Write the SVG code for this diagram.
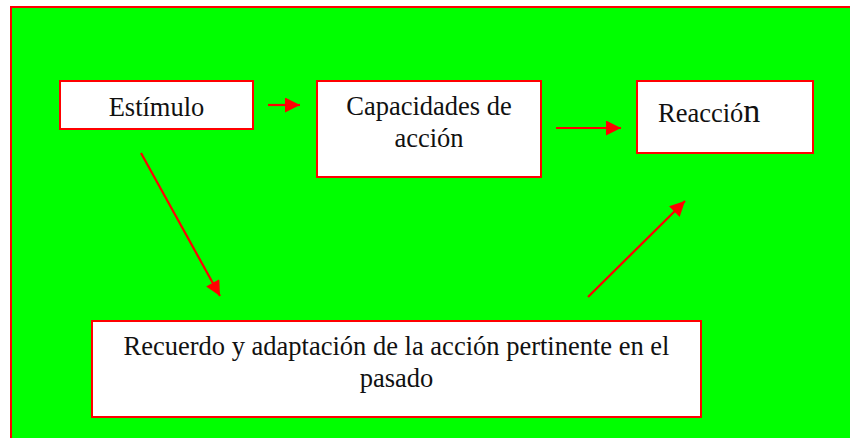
<svg xmlns="http://www.w3.org/2000/svg" width="850" height="438" viewBox="0 0 850 438">
  <defs>
    <style>
      .box { fill: #ffffff; stroke: #ff0000; stroke-width: 2; }
      .lbl { font-family: "Liberation Serif", "Times New Roman", serif; font-size: 26.5px; fill: #111111; }
      .conn { stroke: #ff0000; stroke-width: 2.2; fill: none; }
    </style>
    <marker id="arrow" viewBox="0 0 10 10" refX="10" refY="5" markerUnits="userSpaceOnUse" markerWidth="16" markerHeight="15" orient="auto">
      <path d="M0,0 L10,5 L0,10 Z" fill="#ff0000"/>
    </marker>
  </defs>
  <rect x="0" y="0" width="850" height="438" fill="#ffffff"/>
  <rect x="11" y="7" width="845" height="440" fill="#00ff00" stroke="#ff0000" stroke-width="2"/>

  <g id="estimulo">
    <rect class="box" x="60" y="81" width="193" height="48"/>
    <text class="lbl" x="156.5" y="116" text-anchor="middle">Estímulo</text>
  </g>
  <g id="capacidades">
    <rect class="box" x="317" y="81" width="224" height="96"/>
    <text class="lbl" x="429" y="115" text-anchor="middle">Capacidades de</text>
    <text class="lbl" x="429" y="147" text-anchor="middle">acción</text>
  </g>
  <g id="reaccion">
    <rect class="box" x="637" y="81" width="176" height="72"/>
    <text class="lbl" x="658" y="122">Reacció<tspan font-size="34">n</tspan></text>
  </g>
  <g id="recuerdo">
    <rect class="box" x="92" y="321" width="609" height="96"/>
    <text class="lbl" x="396.5" y="355" text-anchor="middle">Recuerdo y adaptación de la acción pertinente en el</text>
    <text class="lbl" x="396.5" y="387" text-anchor="middle">pasado</text>
  </g>

  <g id="connectors">
    <line class="conn" x1="268" y1="105" x2="300" y2="105" marker-end="url(#arrow)"/>
    <line class="conn" x1="556" y1="128" x2="621" y2="128" marker-end="url(#arrow)"/>
    <line class="conn" x1="141" y1="153" x2="220" y2="296" marker-end="url(#arrow)"/>
    <line class="conn" x1="588" y1="297" x2="685" y2="201" marker-end="url(#arrow)"/>
  </g>
</svg>
